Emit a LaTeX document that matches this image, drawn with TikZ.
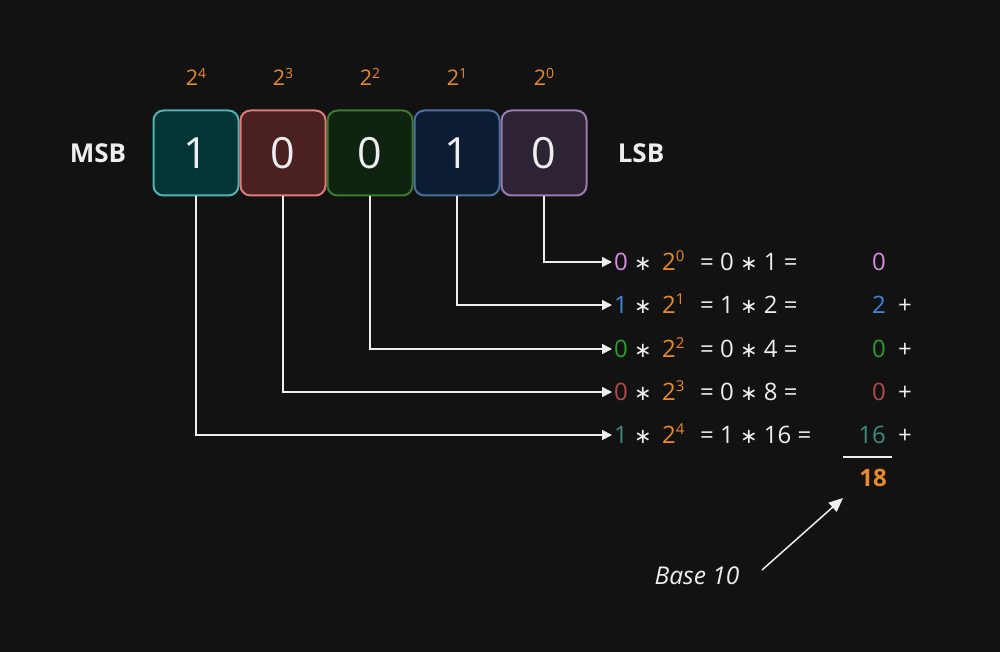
\documentclass[tikz,border=0pt]{standalone}
\usepackage{fontspec}
\setmainfont{Open Sans}
\newfontfamily\symf{DejaVu Sans}
\usetikzlibrary{arrows.meta}
\definecolor{bg}{HTML}{121212}
\definecolor{corg}{HTML}{E8892A}
\definecolor{cpur}{HTML}{D98BE0}
\definecolor{cblu}{HTML}{3B87D9}
\definecolor{cgrn}{HTML}{2A9D2A}
\definecolor{cred}{HTML}{B04A4A}
\definecolor{ctea}{HTML}{3E8B7B}
\definecolor{cwht}{HTML}{EEEEEE}
\definecolor{f1}{HTML}{033436}\definecolor{d1}{HTML}{4FB3B5}
\definecolor{f2}{HTML}{4A2020}\definecolor{d2}{HTML}{E07A7A}
\definecolor{f3}{HTML}{0E2410}\definecolor{d3}{HTML}{3F7A2E}
\definecolor{f4}{HTML}{0C1C33}\definecolor{d4}{HTML}{4C6FA0}
\definecolor{f5}{HTML}{2E2235}\definecolor{d5}{HTML}{9A7AB0}
\newcommand\mul{{\symf\fontsize{21}{21}\selectfont ∗}}
\newcommand\eqf{\fontsize{24}{24}\selectfont}
\newcommand\ex[1]{\raisebox{0.34em}{\fontsize{15}{15}\selectfont #1}}
\newcommand\exs[1]{\raisebox{0.34em}{\fontsize{14}{14}\selectfont #1}}
\begin{document}
\begin{tikzpicture}[x=1pt,y=-1pt,
  bitbox/.style={draw, line width=2pt, rounded corners=10pt, minimum width=85pt,
    minimum height=85pt, inner sep=0pt, font=\fontsize{43}{43}\selectfont, text=cwht},
  explabel/.style={text=corg, font=\fontsize{21.5}{21.5}\selectfont, inner sep=0pt},
  sidelabel/.style={text=cwht, font=\fontsize{26}{26}\selectfont\bfseries, inner sep=0pt},
  eqtext/.style={text=cwht, font=\eqf, inner sep=0pt},
  conn/.style={draw=cwht, line width=1.5pt, -{Triangle[length=10pt,width=10pt]}},
]
\path[fill=bg] (0,0) rectangle (1000,652);
\useasboundingbox (0,0) rectangle (1000,652);

% boxes
\foreach \i/\x/\v/\k in {1/196/1/4, 2/283/0/3, 3/370/0/2, 4/457/1/1, 5/544/0/0} {
  \node[bitbox, fill=f\i, draw=d\i] (b\i) at (\x,153) {\v};
  \node[explabel, anchor=base] (e\i) at (\x,86) {2\exs{\k}};
}
\node[sidelabel] (msb) at (98,153) {MSB};
\node[sidelabel] (lsb) at (641,153) {LSB};

% rows
\foreach \i/\y/\d/\c/\e/\m/\r in {5/262/0/cpur/0/{= 0 \mul\ 1 =}/0,
    4/305/1/cblu/1/{= 1 \mul\ 2 =}/2,
    3/349/0/cgrn/2/{= 0 \mul\ 4 =}/0,
    2/392/0/cred/3/{= 0 \mul\ 8 =}/0,
    1/435/1/ctea/4/{= 1 \mul\ 16 =}/16} {
  \coordinate (t\i) at (612,\y);
  \draw[conn] (b\i.south) |- (t\i);
  \node[eqtext, text=\c, anchor=base west] (d\i) at (614,\y+8) {\d};
  \node[eqtext, anchor=base] (s\i) at (643,\y+8) {\mul};
  \node[eqtext, text=corg, anchor=base west] (p\i) at (662,\y+8) {2\ex{\e}};
  \node[eqtext, anchor=base west] (m\i) at (700,\y+8) {\m};
  \node[eqtext, text=\c, anchor=base east] (r\i) at (886,\y+8) {\r};
  \ifnum\i<5
    \node[eqtext, anchor=base] (plus\i) at (905,\y+8) {+};
  \fi
}

% sum
\coordinate (sl) at (843,457);
\coordinate (sr) at (892,457);
\draw[cwht, line width=1.5pt] (sl) -- (sr);
\node[eqtext, text=corg, font=\eqf\bfseries, anchor=base] (sum) at (873,486) {18};

% base 10
\node[eqtext, font=\fontsize{24.5}{24.5}\selectfont\itshape, anchor=base] (base) at (697,584) {Base 10};
\coordinate (a0) at (762,570);
\coordinate (a1) at (843,498);
\draw[conn, -{Triangle[length=14pt,width=12pt]}] (a0) -- (a1);
\end{tikzpicture}
\end{document}
